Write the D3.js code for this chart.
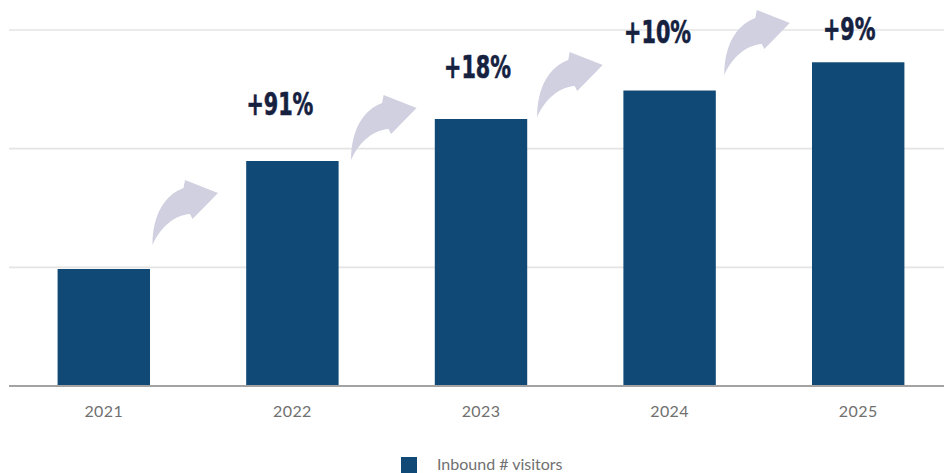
<!DOCTYPE html>
<html>
<head>
<meta charset="utf-8">
<script src="https://cdn.jsdelivr.net/npm/d3@7/dist/d3.min.js"></script>
<style>
  html, body { margin: 0; padding: 0; background: #fff; }
  svg { display: block; }
</style>
</head>
<body>
<svg id="chart" width="944" height="473"></svg>
<script>
// Inbound visitors per year (scaled units, gridline every 1.0)
const years = ["2021", "2022", "2023", "2024", "2025"];
const visitors = [0.986, 1.896, 2.25, 2.49, 2.728];
// Year-on-year growth labels, shown above 2022..2025
const growthLabels = ["+91%", "+18%", "+10%", "+9%"];
const gridTicks = [1, 2, 3];
const seriesName = "Inbound # visitors";

// Annotation placement relative to the bars (pixels)
const labelOffsets = [
  { dx: -12.5, dy: -46 },
  { dx: -3.5, dy: -41 },
  { dx: -12, dy: -48 },
  { dx: -9, dy: -22 }
];
const arrowOffsets = [
  { dx: 2.5, dy: -24 },
  { dx: 12.5, dy: -1 },
  { dx: 10, dy: -2 },
  { dx: 8.5, dy: -15.5 }
];

const svg = d3.select("#chart");
const W = 944, H = 473;

const x = d3.scaleBand()
  .domain(years)
  .range([9.5, 952.5])
  .paddingInner(0.51)
  .paddingOuter(0.255);

const y = d3.scaleLinear()
  .domain([0, 3])
  .range([386, 30]);

// Horizontal gridlines
svg.append("g")
  .selectAll("line")
  .data(gridTicks)
  .join("line")
  .attr("x1", 9)
  .attr("x2", W)
  .attr("y1", d => y(d))
  .attr("y2", d => y(d))
  .attr("stroke", "#e4e4e4")
  .attr("stroke-width", 1.6);

// Bars
svg.append("g")
  .selectAll("rect")
  .data(years)
  .join("rect")
  .attr("x", d => x(d))
  .attr("y", (d, i) => y(visitors[i]))
  .attr("width", x.bandwidth())
  .attr("height", (d, i) => y(0) - y(visitors[i]))
  .attr("fill", "#104975");

// Baseline
svg.append("line")
  .attr("x1", 9)
  .attr("x2", W)
  .attr("y1", y(0))
  .attr("y2", y(0))
  .attr("stroke", "#a3a3a3")
  .attr("stroke-width", 2);

// Year axis labels
const xAxis = d3.axisBottom(x).tickSize(0).tickPadding(0);
const gx = svg.append("g")
  .attr("transform", `translate(0,${y(0)})`)
  .call(xAxis);
gx.select(".domain").remove();
gx.selectAll("text")
  .attr("dy", null)
  .attr("y", 31)
  .attr("font-family", "Lato, 'Open Sans', sans-serif")
  .attr("font-size", 16)
  .attr("fill", "#707070")
  .attr("letter-spacing", 0.4);

// Curved growth arrows (tail at bottom-left, head pointing up-right)
const arrowPath = "M0,0 C0,-30 12,-50 31,-57 L32.5,-65 L65.5,-52 L40,-26 L37.5,-31 C22,-30 8,-18 0,0 Z";
svg.append("g")
  .selectAll("path")
  .data(growthLabels)
  .join("path")
  .attr("d", arrowPath)
  .attr("fill", "#d0d0e1")
  .attr("transform", (d, i) => {
    const tx = x(years[i]) + x.bandwidth() + arrowOffsets[i].dx;
    const ty = y(visitors[i]) + arrowOffsets[i].dy;
    return `translate(${tx},${ty})`;
  });

// Growth labels, set in a compressed bold face
svg.append("g")
  .selectAll("text")
  .data(growthLabels)
  .join("text")
  .attr("transform", (d, i) => {
    const cx = x(years[i + 1]) + x.bandwidth() / 2 + labelOffsets[i].dx;
    const cy = y(visitors[i + 1]) + labelOffsets[i].dy;
    return `translate(${cx},${cy}) scale(0.72,1)`;
  })
  .attr("text-anchor", "middle")
  .attr("font-family", "'DejaVu Sans Condensed', 'DejaVu Sans', sans-serif")
  .attr("font-weight", "bold")
  .attr("font-size", 32)
  .attr("fill", "#15213f")
  .attr("stroke", "#15213f")
  .attr("stroke-width", 0.6)
  .text(d => d);

// Legend
const legend = svg.append("g").attr("transform", "translate(401,457)");
legend.append("rect")
  .attr("width", 16)
  .attr("height", 16)
  .attr("fill", "#104975");
legend.append("text")
  .attr("x", 36)
  .attr("y", 13)
  .attr("font-family", "Lato, 'Open Sans', sans-serif")
  .attr("font-size", 16)
  .attr("fill", "#707070")
  .text(seriesName);
</script>
</body>
</html>
